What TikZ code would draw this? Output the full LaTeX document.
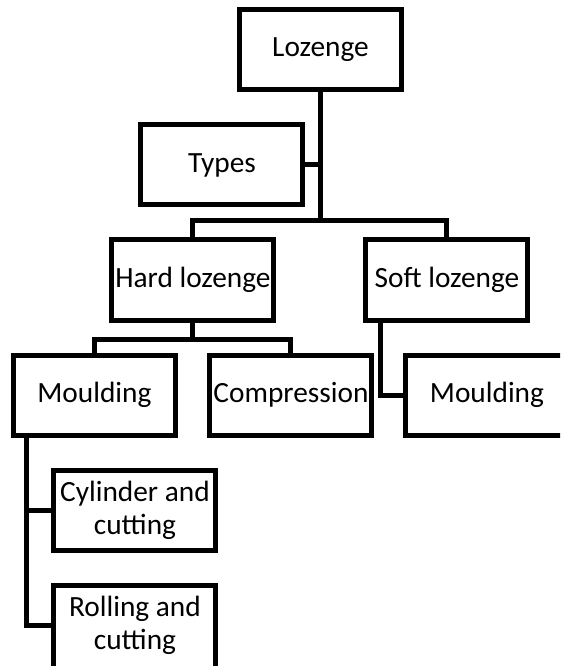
\documentclass[tikz,border=0pt]{standalone}
\usepackage{fontspec}
\setmainfont{Carlito}
\usepackage{tikz}
\usetikzlibrary{positioning}

\begin{document}
\begin{tikzpicture}[box/.style={rectangle, draw, line width=3.75pt, minimum width=121.5pt, minimum height=60pt, inner sep=1pt, align=center, font=\fontsize{22}{24.5}\selectfont},
    boxtext/.style={inner sep=1pt, align=center, font=\fontsize{22}{24.5}\selectfont},
    conn/.style={-, line width=3.75pt}, on grid]
        \useasboundingbox (-240.375pt,37.5pt) rectangle (179.625pt,-462pt);
        \clip (-240.375pt,37.5pt) rectangle (179.625pt,-462pt);

        %% Root and types
        \node[box] (loz) {Lozenge};
        \node[box, below left=86.25pt and 73.9pt of loz] (types) {Types};

        %% Hard / soft
        \node[box, below left=86.25pt and 21.75pt of types] (hard) {Hard lozenge};
        \node[box, right=190.5pt of hard] (soft) {Soft lozenge};

        %% Methods (the last boxes run off the page)
        \node[box, below left=86.25pt and 73.9pt of hard] (mouldL) {Moulding};
        \node[box, below right=86.25pt and 73.5pt of hard] (comp) {Compression};
        \node[box, minimum width=141.5pt, below right=86.25pt and 40pt of soft] (mouldR) {};
        \node[boxtext, below right=86.25pt and 30pt of soft] (mouldRtext) {Moulding};
        \node[box, below right=86.25pt and 30.4pt of mouldL] (cyl) {Cylinder and\\cutting};
        \node[box, minimum height=74pt, below=93.25pt of cyl] (roll) {};
        \node[boxtext, below=86.25pt of cyl] (rolltext) {Rolling and\\cutting};

        %% Connectors
        \coordinate[above=12.75pt of hard.north] (bus1);
        \draw[conn] (hard.north) -- (bus1) -| (soft.north);
        \draw[conn] (loz.south) -- (loz.south |- bus1);
        \draw[conn] (types.east) -- (types.east -| loz.south);

        \coordinate[below=12.75pt of hard.south] (bus2);
        \draw[conn] (hard.south) -- (bus2);
        \draw[conn] (mouldL.north) |- (bus2) -| (comp.north);

        \draw[conn] ([xshift=12.75pt]soft.south west) |- (mouldR.west);

        \draw[conn] ([xshift=12pt]mouldL.south west) |- (cyl.west);
        \draw[conn] ([xshift=12pt]mouldL.south west) |- (roll.west |- rolltext);
    \end{tikzpicture}
\end{document}
